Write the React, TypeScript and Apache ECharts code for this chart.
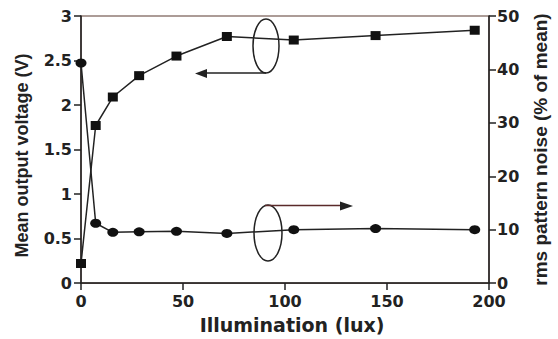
import React, { useEffect, useRef } from "react";
import * as echarts from "echarts";

const illumination = [0, 7.2, 15.6, 28.5, 46.8, 71.5, 104.3, 144.4, 193];
const meanVoltage = [0.22, 1.77, 2.09, 2.33, 2.55, 2.77, 2.73, 2.78, 2.84];
const noisePct = [41.2, 11.2, 9.5, 9.6, 9.7, 9.3, 10.0, 10.2, 10.0];

const xTitle = "Illumination (lux)";
const leftTitle = "Mean output voltage (V)";
const rightTitle = "rms pattern noise (% of mean)";

export default function App() {
  const ref = useRef<HTMLDivElement>(null);
  useEffect(() => {
    document.body.style.margin = "0";
    const chart = echarts.init(ref.current!, null, { renderer: "svg" });
    const ink = "#222";
    const tickFont = {
      fontFamily: "DejaVu Sans",
      fontWeight: "bold" as const,
      fontSize: 16,
      color: ink,
    };
    const axisCommon = {
      axisLine: { show: true, lineStyle: { color: ink, width: 1.5 } },
      axisTick: { show: true, length: 7, lineStyle: { color: ink, width: 1.5 } },
      splitLine: { show: false },
    };
    chart.setOption({
      animation: false,
      backgroundColor: "#fff",
      grid: {
        left: 81,
        right: 62,
        top: 16,
        bottom: 50,
        show: true,
        borderColor: "#5a3a30",
        borderWidth: 1.2,
        backgroundColor: "transparent",
      },
      xAxis: {
        type: "value",
        min: 0,
        max: 200,
        interval: 50,
        name: xTitle,
        nameLocation: "middle",
        nameGap: 24,
        nameTextStyle: {
          fontFamily: "DejaVu Sans",
          fontWeight: "bold",
          fontSize: 19,
          color: ink,
          padding: [0, 0, 0, 14],
        },
        axisLabel: { ...tickFont, margin: 10, lineHeight: 17 },
        ...axisCommon,
      },
      yAxis: [
        {
          type: "value",
          min: 0,
          max: 3,
          interval: 0.5,
          position: "left",
          name: leftTitle,
          nameLocation: "middle",
          nameGap: 50,
          nameTextStyle: {
            fontFamily: "Liberation Sans",
            fontWeight: "bold",
            fontSize: 18,
            color: ink,
            padding: [0, 12, 0, 0],
          },
          axisLabel: { ...tickFont, margin: 9, lineHeight: 13 },
          ...axisCommon,
        },
        {
          type: "value",
          min: 0,
          max: 50,
          interval: 10,
          position: "right",
          name: rightTitle,
          nameLocation: "middle",
          nameGap: 42,
          nameRotate: 90,
          nameTextStyle: { fontFamily: "Liberation Sans", fontWeight: "bold", fontSize: 19, color: ink },
          axisLabel: { ...tickFont, margin: 8, lineHeight: 13 },
          ...axisCommon,
        },
      ],
      series: [
        {
          type: "line",
          yAxisIndex: 0,
          data: illumination.map((x, i) => [x, meanVoltage[i]]),
          symbol: "rect",
          symbolSize: [10, 9],
          lineStyle: { color: ink, width: 1.5 },
          itemStyle: { color: "#111" },
        },
        {
          type: "line",
          yAxisIndex: 1,
          data: illumination.map((x, i) => [x, noisePct[i]]),
          symbol: "circle",
          symbolSize: [11, 9],
          lineStyle: { color: ink, width: 1.5 },
          itemStyle: { color: "#111" },
        },
      ],
      graphic: [
        { type: "ellipse", shape: { cx: 266, cy: 46, rx: 13, ry: 27 }, style: { fill: "none", stroke: ink, lineWidth: 1.5 }, z: 10 },
        { type: "line", shape: { x1: 266, y1: 73, x2: 204, y2: 73 }, style: { stroke: ink, lineWidth: 1.5 }, z: 10 },
        { type: "polygon", shape: { points: [[195, 73.5], [207, 69], [207, 78]] }, style: { fill: ink }, z: 10 },
        { type: "ellipse", shape: { cx: 268, cy: 233, rx: 14, ry: 28 }, style: { fill: "none", stroke: ink, lineWidth: 1.5 }, z: 10 },
        { type: "line", shape: { x1: 265, y1: 205.5, x2: 343, y2: 205.5 }, style: { stroke: "#5a2a2a", lineWidth: 1.5 }, z: 10 },
        { type: "polygon", shape: { points: [[353, 206], [340, 201.5], [340, 210.5]] }, style: { fill: ink }, z: 10 },
      ],
    });
    return () => chart.dispose();
  }, []);
  return <div ref={ref} style={{ width: 558, height: 339 }} />;
}
